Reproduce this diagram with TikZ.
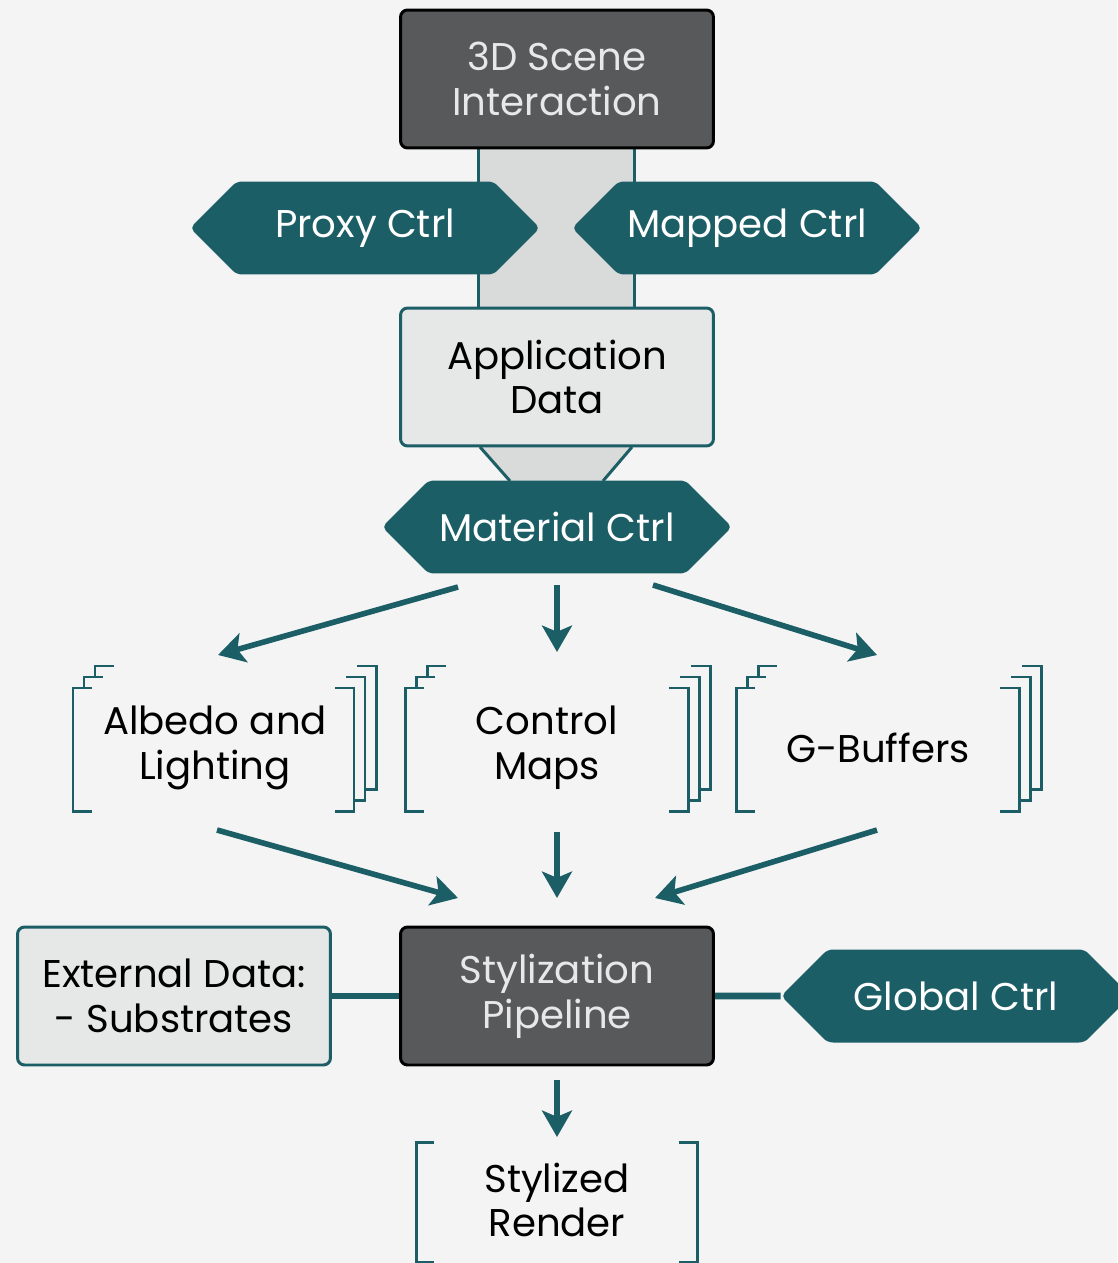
\documentclass[tikz,border=0pt]{standalone}
\usepackage{fontspec}
\setmainfont{Poppins}
\usetikzlibrary{shapes.symbols,arrows.meta}
\definecolor{ctrlteal}{HTML}{1B5E66}
\definecolor{scenegray}{HTML}{58595B}
\definecolor{datagray}{HTML}{E6E7E7}
\definecolor{bandgray}{HTML}{D9DADA}
\definecolor{bggray}{HTML}{F4F4F4}
\definecolor{lighttext}{HTML}{E8E8E8}
\newcommand{\diafont}{\fontsize{22}{25.5}\selectfont}
% stacked brackets: left, top, right, bottom
\newcommand{\pagestack}[4]{%
	\draw[bracket] ({#1+19},#2) -- (#1,#2) -- (#1,#4) -- ({#1+19},#4);
	\draw[bracket] ({#3-19},#2) -- (#3,#2) -- (#3,#4) -- ({#3-19},#4);
	\foreach \d/\e in {11/0,22/11}{
		\draw[bracket] ({#1+\d+19},{#2-\d}) -- ({#1+\d},{#2-\d}) -- ({#1+\d},{#2-\e});
		\draw[bracket] ({#3+\d-19},{#2-\d}) -- ({#3+\d},{#2-\d}) -- ({#3+\d},{#4-\d}) -- ({#3+\e},{#4-\d});
	}
}
\begin{document}
\begin{tikzpicture}[x=0.02cm,y=-0.02cm,
	box/.style={draw=ctrlteal,line width=1.7pt,fill=datagray,rounded corners=4pt,minimum width=6.26cm,minimum height=2.76cm,align=center,font=\diafont},
	darkbox/.style={box,draw=black,fill=scenegray,text=lighttext},
	ctrl/.style={shape=signal,signal to=west and east,signal pointer angle=90,fill=ctrlteal,text=white,font=\diafont,inner sep=0pt,minimum width=7cm,minimum height=1.86cm,rounded corners=3pt},
	label/.style={font=\diafont,align=center},
	bracket/.style={draw=ctrlteal,line width=1.7pt},
	flow/.style={draw=ctrlteal,line width=3.2pt,-{Stealth[length=15pt,width=17pt,inset=3.5pt]}},
	link/.style={draw=ctrlteal,line width=3.8pt}]
	\useasboundingbox (0,0) rectangle (1117,1263);
	\fill[bggray] (0,0) rectangle (1117,1263);
	% bands
	\fill[bandgray] (478,148) rectangle (634,308);
	\draw[bracket] (478,148) -- (478,308) (634,148) -- (634,308);
	\fill[bandgray] (480,447) -- (632,447) -- (603,481) -- (510,481) -- cycle;
	\draw[bracket] (480,447) -- (510,481) (632,447) -- (603,481);
	% boxes
	\node[darkbox] (scene) at (557,79) {3D Scene\\Interaction};
	\node[ctrl] (proxy) at (365,228) {Proxy Ctrl};
	\node[ctrl] (mapped) at (747,228) {Mapped Ctrl};
	\node[box] (appdata) at (557,377) {Application\\Data};
	\node[ctrl] (material) at (557,527) {Material Ctrl};
	% maps
	\node[label] (albedo) at (215,748) {Albedo and\\Lighting};
	\node[label] (ctrlmaps) at (547,748) {Control\\Maps};
	\node[label] (gbuf) at (878,748) {G-Buffers};
	\pagestack{73}{688}{354}{811}
	\pagestack{405}{688}{688}{811}
	\pagestack{736}{688}{1019}{811}
	% pipeline
	\node[darkbox] (styl) at (557,996) {Stylization\\Pipeline};
	\node[box] (extdata) at (174,996) {External Data:\\- Substrates};
	\node[ctrl] (global) at (956,996) {Global Ctrl};
	\draw[link] (extdata) -- (styl);
	\draw[link] (styl) -- (global);
	\node[label] (render) at (557,1200) {Stylized\\Render};
	\draw[bracket] (434,1142) -- (416,1142) -- (416,1262) -- (434,1262);
	\draw[bracket] (679,1142) -- (697,1142) -- (697,1262) -- (679,1262);
	% arrows
	\coordinate (matL) at (458,587);
	\coordinate (matM) at (557,585);
	\coordinate (matR) at (653,585);
	\coordinate (albT) at (218,655);
	\coordinate (cmT) at (557,652);
	\coordinate (gbT) at (877,655);
	\coordinate (albB) at (217,830);
	\coordinate (cmB) at (557,832);
	\coordinate (gbB) at (877,830);
	\coordinate (stylL) at (458,898);
	\coordinate (stylM) at (557,898);
	\coordinate (stylR) at (655,898);
	\coordinate (stylB) at (557,1080);
	\coordinate (renT) at (557,1137);
	\draw[flow] (matL) -- (albT);
	\draw[flow] (matM) -- (cmT);
	\draw[flow] (matR) -- (gbT);
	\draw[flow] (albB) -- (stylL);
	\draw[flow] (cmB) -- (stylM);
	\draw[flow] (gbB) -- (stylR);
	\draw[flow] (stylB) -- (renT);
\end{tikzpicture}
\end{document}
